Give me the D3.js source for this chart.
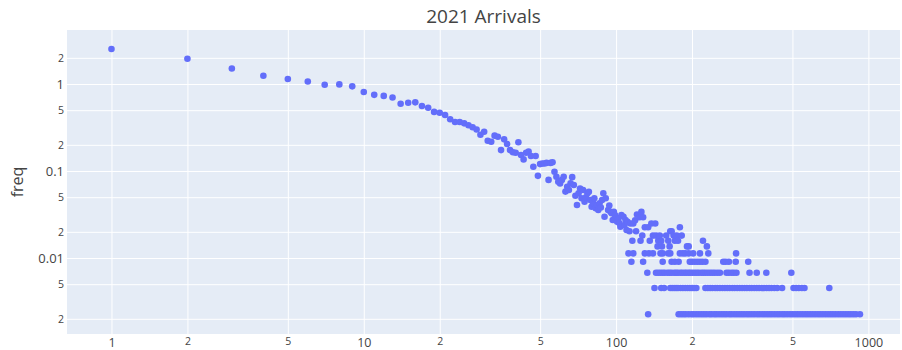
<!DOCTYPE html>
<html>
  <head>
    <meta charset="utf-8">
    <script type="text/javascript" src="https://cdn.jsdelivr.net/npm/d3@7/dist/d3.min.js"></script>
    <style type="text/css">
      body {
        margin: 0;
        background: #ffffff;
      }
      text {
        font-family: "Open Sans", verdana, arial, sans-serif;
        fill: #444444;
      }
    </style>
  </head>
  <body>
    <script type="text/javascript">

      // number of arrivals (x) and their frequency in % (y), upper part of the curve
      var bodyX = [1, 2, 3, 4, 5, 6, 7, 8, 9, 10,
                   11, 12, 13, 14, 15, 16, 17, 18, 19, 20,
                   21, 22, 23, 24, 25, 26, 27, 28, 29, 30,
                   31, 32, 33, 34, 35, 36, 37, 38, 39, 40,
                   41, 42, 43, 44, 45, 46, 47, 48, 49, 50,
                   51, 52, 53, 54, 55, 56, 57, 58, 59, 60,
                   61, 62, 63, 64, 65, 66, 67, 68, 69, 70,
                   71, 72, 73, 74, 75, 76, 77, 78, 79, 80,
                   81, 82, 83, 84, 85, 86, 87, 88, 89, 90,
                   91, 93, 94, 95, 96, 97, 98, 99, 101, 102,
                   103, 104, 105, 107, 108, 109, 110, 111, 113, 114,
                   116, 117, 119, 120, 121, 124, 125, 126, 127, 128,
                   130, 134, 136, 138, 140, 143, 144, 146, 147, 149,
                   151, 152, 158, 161, 163, 164, 166, 169, 171, 174,
                   176, 179, 182, 191, 194, 221, 229];
      var bodyFreq = [2.53, 1.95, 1.51, 1.245, 1.14, 1.07, 0.98, 0.99, 0.94, 0.81,
                      0.75, 0.73, 0.70, 0.594, 0.61, 0.615, 0.559, 0.534, 0.478, 0.468,
                      0.44, 0.393, 0.366, 0.366, 0.353, 0.336, 0.318, 0.30, 0.261, 0.283,
                      0.223, 0.217, 0.255, 0.248, 0.174, 0.231, 0.204, 0.174, 0.164, 0.162,
                      0.214, 0.153, 0.136, 0.162, 0.167, 0.149, 0.112, 0.149, 0.088, 0.12,
                      0.122, 0.122, 0.124, 0.079, 0.124, 0.126, 0.098, 0.086, 0.075, 0.072,
                      0.079, 0.086, 0.058, 0.066, 0.0605, 0.072, 0.085, 0.069, 0.052, 0.0407,
                      0.0554, 0.063, 0.0486, 0.0605, 0.0444, 0.05, 0.0554, 0.0578, 0.0464, 0.0389,
                      0.043, 0.0486, 0.0373, 0.0407, 0.0356, 0.0425, 0.038, 0.0464, 0.0554, 0.0298,
                      0.0486, 0.0356, 0.04, 0.034, 0.0327, 0.0273, 0.034, 0.0312, 0.0261, 0.0286,
                      0.0252, 0.0229, 0.0312, 0.0298, 0.0239, 0.0273, 0.021, 0.0261, 0.0203, 0.0249,
                      0.0158, 0.0249, 0.0271, 0.0203, 0.0316, 0.0294, 0.0158, 0.0339, 0.0181, 0.0294,
                      0.0226, 0.0226, 0.0158, 0.0249, 0.0181, 0.0249, 0.0181, 0.0136, 0.0158, 0.0181,
                      0.0158, 0.0136, 0.0181, 0.0158, 0.0136, 0.0203, 0.0203, 0.0181, 0.0158, 0.0181,
                      0.0158, 0.0226, 0.0181, 0.0136, 0.0136, 0.0158, 0.0136];

      // the long tail: frequency of 1..5 occurrences, and the x values on each row
      var tailLevels = [0.00226, 0.00452, 0.00678, 0.00904, 0.0113];
      var tailX1 = [134, 177, 181, 185, 189, 194, 199, 203, 208, 213, 218, 223, 228,
                    234, 239, 245, 250, 256, 262, 268, 274, 281, 287, 294, 301, 308,
                    315, 322, 330, 337, 345, 353, 362, 370, 379, 388, 397, 406, 415,
                    425, 435, 445, 456, 466, 477, 489, 500, 512, 524, 536, 549, 562,
                    575, 588, 602, 616, 631, 645, 660, 676, 692, 708, 724, 741, 759,
                    777, 795, 814, 833, 852, 872, 893, 926];
      var tailX2 = [142, 151, 155, 164, 167, 170, 173, 176, 180, 184, 188, 192, 196,
                    200, 204, 208, 226, 231, 236, 241, 247, 252, 258, 264, 270, 276,
                    282, 289, 295, 302, 309, 316, 323, 330, 338, 345, 353, 361, 369,
                    378, 386, 395, 404, 413, 424, 435, 455, 505, 517, 530, 545, 558, 700];
      var tailX3 = [133, 144, 147, 150, 153, 156, 160, 163, 166, 170, 173, 176, 180,
                    183, 187, 190, 194, 197, 201, 205, 209, 213, 218, 222, 226, 231,
                    236, 241, 246, 252, 258, 274, 280, 287, 293, 300, 338, 361, 394, 495];
      var tailX4 = [115, 128, 153, 166, 171, 177, 196, 200, 205, 210, 215, 220, 226,
                    266, 272, 280, 298, 334];
      var tailX5 = [112, 117, 130, 135, 140, 150, 153, 161, 164, 179, 184, 188, 194,
                    202, 215, 232, 299];

      // tick values and their labels (log axes, "D2" style)
      var xTicks = [1, 2, 5, 10, 20, 50, 100, 200, 500, 1000];
      var xTickLabels = ["1", "2", "5", "10", "2", "5", "100", "2", "5", "1000"];
      var yTicks = [2, 1, 0.5, 0.2, 0.1, 0.05, 0.02, 0.01, 0.005, 0.002];
      var yTickLabels = ["2", "1", "5", "2", "0.1", "5", "2", "0.01", "5", "2"];

      // collect every point in one list
      var points = [];
      bodyX.forEach(function(x, i){
        points.push({x: x, freq: bodyFreq[i]});
      });
      [tailX1, tailX2, tailX3, tailX4, tailX5].forEach(function(row, k){
        row.forEach(function(x){
          points.push({x: x, freq: tailLevels[k]});
        });
      });

      // size of the picture and of the plotting area
      var width = 902;
      var height = 350;
      var pad = {top: 30, right: 2, bottom: 16, left: 67};
      var wChart = width - pad.left - pad.right;
      var hChart = height - pad.top - pad.bottom;

      var svg = d3.select("body")
                  .append("svg")
                  .attr("width", width)
                  .attr("height", height);

      var chart = svg.append("g")
                     .attr("transform", "translate(" + pad.left + "," + pad.top + ")");

      // log scales, ranges as in the original
      var xScale = d3.scaleLog()
                     .domain([0.6664, 1334.5])
                     .range([0, wChart]);
      var yScale = d3.scaleLog()
                     .domain([0.001338, 4.176])
                     .range([hChart, 0]);

      // checks whether a tick is a power of ten (drawn a bit bigger)
      var isMajor = function(d){
        var l = Math.log10(d);
        return Math.abs(l - Math.round(l)) < 1e-6;
      };

      // plot background
      chart.append("rect")
           .attr("width", wChart)
           .attr("height", hChart)
           .attr("fill", "#e5ecf6");

      // vertical grid
      chart.append("g")
           .attr("transform", "translate(0," + hChart + ")")
           .call(d3.axisBottom(xScale)
                   .tickValues(xTicks)
                   .tickSize(-hChart)
                   .tickFormat(""))
           .call(function(g){ g.select(".domain").remove(); })
           .selectAll("line")
           .attr("stroke", "#ffffff")
           .attr("stroke-width", 1);

      // horizontal grid
      chart.append("g")
           .call(d3.axisLeft(yScale)
                   .tickValues(yTicks)
                   .tickSize(-wChart)
                   .tickFormat(""))
           .call(function(g){ g.select(".domain").remove(); })
           .selectAll("line")
           .attr("stroke", "#ffffff")
           .attr("stroke-width", 1);

      // the scatter points
      chart.append("g")
           .selectAll("circle")
           .data(points)
           .enter()
           .append("circle")
           .attr("cx", function(d){ return xScale(d.x); })
           .attr("cy", function(d){ return yScale(d.freq); })
           .attr("r", 3.3)
           .attr("fill", "#636efa");

      // x tick labels
      var xAxis = chart.append("g")
                       .attr("transform", "translate(0," + hChart + ")")
                       .call(d3.axisBottom(xScale)
                               .tickValues(xTicks)
                               .tickSize(0)
                               .tickFormat(function(d, i){ return xTickLabels[i]; }));
      xAxis.select(".domain").remove();
      xAxis.attr("font-family", null).attr("font-size", null);
      xAxis.selectAll("text")
           .attr("dy", null)
           .attr("y", function(d){ return isMajor(d) ? 12.5 : 10.5; })
           .style("font-size", function(d){ return isMajor(d) ? "12.5px" : "10.5px"; });

      // y tick labels
      var yAxis = chart.append("g")
                       .call(d3.axisLeft(yScale)
                               .tickValues(yTicks)
                               .tickSize(0)
                               .tickPadding(3)
                               .tickFormat(function(d, i){ return yTickLabels[i]; }));
      yAxis.select(".domain").remove();
      yAxis.attr("font-family", null).attr("font-size", null);
      yAxis.selectAll("text")
           .attr("dy", "0.36em")
           .style("font-size", function(d){ return isMajor(d) ? "13px" : "10.5px"; });

      // title
      svg.append("text")
         .attr("x", pad.left + wChart / 2)
         .attr("y", 23)
         .attr("text-anchor", "middle")
         .style("font-size", "19px")
         .text("2021 Arrivals");

      // y axis label
      svg.append("text")
         .attr("transform", "translate(23," + (pad.top + hChart / 2) + ") rotate(-90)")
         .attr("text-anchor", "middle")
         .style("font-size", "16px")
         .text("freq");
    </script>
  </body>
</html>
